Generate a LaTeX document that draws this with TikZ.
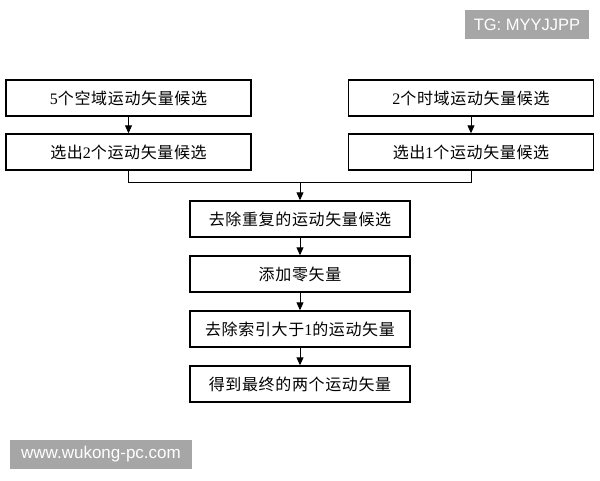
\documentclass[tikz,border=0pt]{standalone}
\usepackage{fontspec}
\setmainfont{Liberation Serif}
\newfontfamily\cjk[LetterSpace=4]{Noto Sans CJK SC}
\newfontfamily\wmfont{Liberation Sans}
\usetikzlibrary{arrows.meta}
\tikzset{
  flowbox/.style={draw=black, line width=1.4pt, fill=white, minimum height=36pt, inner sep=0pt, font=\fontsize{16}{16}\selectfont},
  sidebox/.style={flowbox, minimum width=245pt},
  midbox/.style={flowbox, minimum width=220pt},
  conn/.style={draw=black, line width=0.9pt},
  arr/.style={conn, -{Triangle[length=8pt,width=7pt]}},
  wmbox/.style={fill=black!35, draw=none},
  wmtext/.style={text=white, font=\wmfont\fontsize{16.5}{16.5}\selectfont, inner sep=0pt}
}
\begin{document}
\begin{tikzpicture}[x=1pt,y=-1pt]
\useasboundingbox (0,0) rectangle (600,480);
\fill[white] (0,0) rectangle (600,480);
% watermarks
\path[wmbox] (465,10) rectangle (589,39);
\node[wmtext] (tg) at (527,24.5) {TG: MYYJJPP};
\path[wmbox] (10,440) rectangle (192,469);
\node[wmtext, font=\wmfont\fontsize{17}{17}\selectfont] (www) at (101,454.5) {www.wukong-pc.com};
% boxes
\node[sidebox] (A) at (128.5,98) {5{\cjk 个空域运动矢量候选}};
\node[sidebox] (B) at (128.5,152) {{\cjk 选出}2{\cjk 个运动矢量候选}};
\node[sidebox] (C) at (471,98) {2{\cjk 个时域运动矢量候选}};
\node[sidebox] (D) at (471,152) {{\cjk 选出}1{\cjk 个运动矢量候选}};
\node[midbox] (E) at (300,219) {\cjk 去除重复的运动矢量候选};
\node[midbox] (F) at (300,274) {\cjk 添加零矢量};
\node[midbox] (G) at (300,329) {{\cjk 去除索引大于}1{\cjk 的运动矢量}};
\node[midbox] (H) at (300,384) {\cjk 得到最终的两个运动矢量};
\coordinate (J) at (300,182);
% connectors
\draw[arr] (A) -- (B);
\draw[arr] (C) -- (D);
\draw[conn] (B.south) -- (B.south |- J) -- (J);
\draw[conn] (D.south) -- (D.south |- J) -- (J);
\draw[arr] (J) -- (E.north);
\draw[arr] (E) -- (F);
\draw[arr] (F) -- (G);
\draw[arr] (G) -- (H);
\end{tikzpicture}
\end{document}
